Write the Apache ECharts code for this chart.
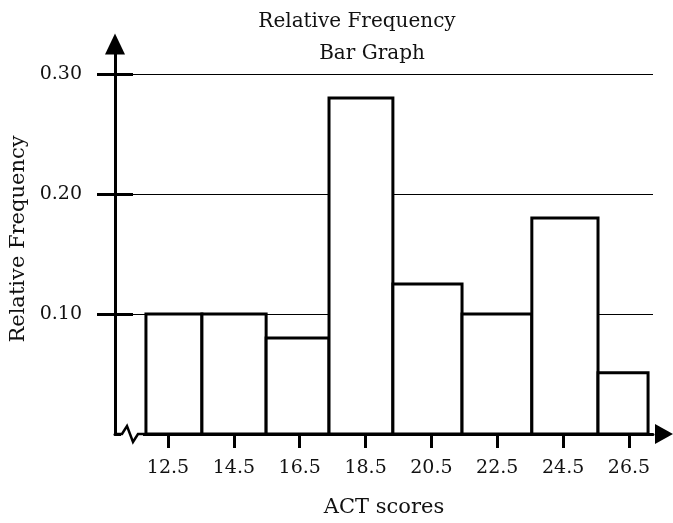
<!DOCTYPE html>
<html>
<head>
<meta charset="utf-8">
<script src="https://cdn.jsdelivr.net/npm/echarts@6/dist/echarts.min.js"></script>
<style>
html,body{margin:0;padding:0;background:#fff;}
#chart{width:673px;height:523px;}
</style>
</head>
<body>
<div id="chart"></div>
<script>
// ---- data ----
const categories = ['12.5', '14.5', '16.5', '18.5', '20.5', '22.5', '24.5', '26.5'];
const tickValues = [12.5, 14.5, 16.5, 18.5, 20.5, 22.5, 24.5, 26.5];
const binStart = [11.83, 13.53, 15.48, 17.39, 19.33, 21.43, 23.55, 25.56];
const binEnd   = [13.53, 15.48, 17.39, 19.33, 21.43, 23.55, 25.56, 27.08];
const relFreq  = [0.1, 0.1, 0.08, 0.28, 0.125, 0.1, 0.18, 0.051];
const yTickValues = [0.1, 0.2, 0.3];

const FONT = 'DejaVu Serif';
const seriesData = binStart.map((s, i) => [s, binEnd[i], relFreq[i], categories[i]]);

const chart = echarts.init(document.getElementById('chart'));
chart.setOption({
  animation: false,
  backgroundColor: '#fff',
  title: [{
    text: 'Relative Frequency',
    left: 352, top: 7, textAlign: 'center',
    textStyle: {fontFamily: FONT, fontSize: 20, fontWeight: 'normal', color: '#111'}
  }, {
    text: 'Bar Graph',
    left: 367, top: 39, textAlign: 'center',
    textStyle: {fontFamily: FONT, fontSize: 20, fontWeight: 'normal', color: '#111'}
  }],
  grid: {left: 115, right: 20, top: 44, bottom: 89, containLabel: false, outerBoundsMode: 'none'},
  xAxis: {
    type: 'value', min: 10.89, max: 27.23,
    name: 'ACT scores', nameLocation: 'middle', nameGap: 63,
    nameTextStyle: {fontFamily: FONT, fontSize: 21, color: '#111'},
    axisLine: {show: true, lineStyle: {color: '#000', width: 3},
      symbol: ['none', 'triangle'], symbolSize: [20, 18], symbolOffset: [0, 11]},
    axisTick: {show: true, customValues: tickValues, length: 14, lineStyle: {color: '#000', width: 3}},
    axisLabel: {show: true, customValues: tickValues, margin: 25,
      formatter: v => v.toFixed(1),
      fontFamily: FONT, fontSize: 19, color: '#111'},
    splitLine: {show: false}
  },
  yAxis: [{
    type: 'value', min: 0, max: 0.325, interval: 0.1,
    name: 'Relative Frequency', nameLocation: 'middle', nameGap: 86, nameRotate: 90,
    nameTextStyle: {fontFamily: FONT, fontSize: 21, color: '#111'},
    axisLine: {show: true, lineStyle: {color: '#000', width: 3},
      symbol: ['none', 'triangle'], symbolSize: [20, 21], symbolOffset: [0, 0]},
    axisTick: {show: true, customValues: yTickValues, length: 18, lineStyle: {color: '#000', width: 3}},
    axisLabel: {show: true, customValues: yTickValues, margin: 33,
      formatter: v => v.toFixed(2), fontFamily: FONT, fontSize: 19, color: '#111'},
    splitLine: {show: false}
  }, {
    type: 'value', min: 0, max: 0.325, interval: 0.1, position: 'left',
    axisLine: {show: false},
    axisTick: {show: true, inside: true, customValues: yTickValues, length: 18, lineStyle: {color: '#000', width: 3}},
    axisLabel: {show: false},
    splitLine: {show: false}
  }],
  series: [{
    type: 'line',
    data: [],
    z: 1,
    silent: true,
    markLine: {
      z: 1,
      silent: true,
      symbol: ['none', 'none'],
      label: {show: false},
      lineStyle: {color: '#000', width: 1, type: 'solid'},
      data: yTickValues.map(v => ({yAxis: v}))
    }
  }, {
    type: 'custom',
    yAxisIndex: 0,
    data: seriesData,
    renderItem: function (params, api) {
      const p0 = api.coord([api.value(0), 0]);
      const p1 = api.coord([api.value(1), api.value(2)]);
      return {
        type: 'rect',
        shape: {x: p0[0], y: p1[1], width: p1[0] - p0[0], height: p0[1] - p1[1]},
        style: {fill: '#fff', stroke: '#000', lineWidth: 3}
      };
    },
    z: 3
  }],
  graphic: [{
    type: 'rect', z: 100,
    shape: {x: 121, y: 430, width: 22, height: 8},
    style: {fill: '#fff'}
  }, {
    type: 'polyline', z: 101,
    shape: {points: [[114, 434], [122, 434], [127, 426], [133, 442], [138, 434], [145, 434]]},
    style: {stroke: '#000', lineWidth: 2.5, fill: null}
  }]
});
</script>
</body>
</html>
